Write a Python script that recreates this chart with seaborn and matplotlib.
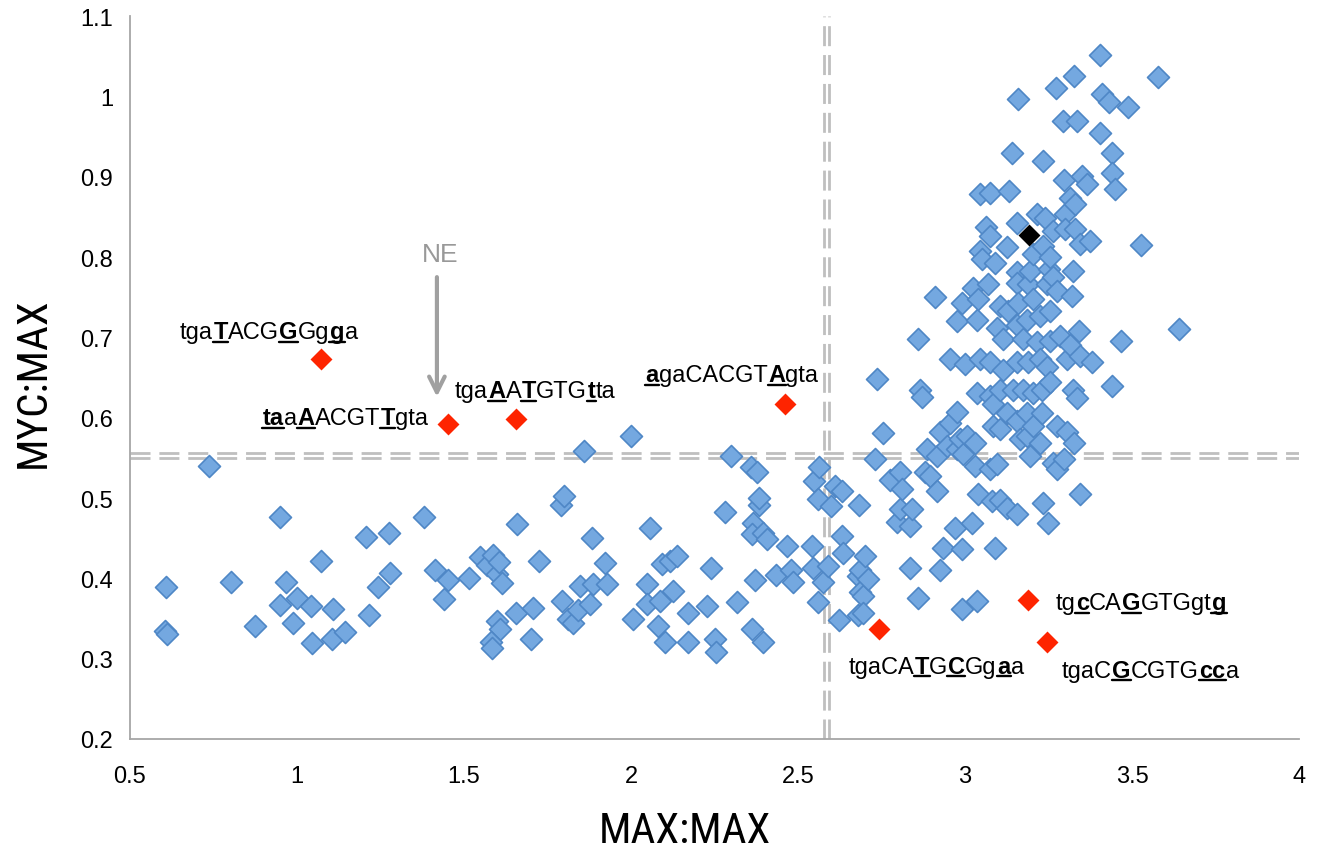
import re
import numpy as np
import pandas as pd
import matplotlib
matplotlib.use("Agg")
import matplotlib.pyplot as plt
import seaborn as sns
from matplotlib.lines import Line2D
from matplotlib.transforms import IdentityTransform
from matplotlib.font_manager import FontProperties
from matplotlib.ticker import FuncFormatter

# ---------------- data ----------------
max_max = [
    0.607, 0.605, 0.610, 0.737, 0.802, 0.873, 0.950, 0.948, 0.968, 0.988, 0.999, 1.042, 1.045,
    1.071, 1.105, 1.109, 1.144, 1.207, 1.217, 1.244, 1.277, 1.280, 1.379, 1.412, 1.441, 1.452,
    1.516, 1.549, 1.568, 1.586, 1.599, 1.605, 1.613, 1.598, 1.608, 1.580, 1.583, 1.655, 1.658,
    1.701, 1.708, 1.725, 1.789, 1.800, 1.792, 1.811, 1.827, 1.842, 1.847, 1.860, 1.877, 1.882,
    1.887, 1.922, 1.927, 1.999, 2.007, 2.047, 2.047, 2.057, 2.082, 2.087, 2.092, 2.102, 2.117,
    2.127, 2.137, 2.172, 2.172, 2.227, 2.241, 2.252, 2.255, 2.281, 2.299, 2.316, 2.359, 2.376,
    2.361, 2.366, 2.361, 2.371, 2.382, 2.384, 2.394, 2.396, 2.406, 2.434, 2.466, 2.479, 2.486,
    2.541, 2.546, 2.548, 2.559, 2.561, 2.563, 2.576, 2.591, 2.600, 2.611, 2.624, 2.631, 2.631,
    2.636, 2.679, 2.680, 2.683, 2.686, 2.686, 2.695, 2.696, 2.700, 2.711,
    2.731, 2.736, 2.755, 2.775, 2.795, 2.805, 2.805, 2.810, 2.835, 2.835, 2.840, 2.860, 2.860,
    2.865, 2.870, 2.880, 2.885, 2.895, 2.910, 2.915, 2.915, 2.925, 2.925, 2.935, 2.945, 2.955,
    2.955, 2.970, 2.975, 2.975, 2.975, 2.985, 2.990, 2.990, 2.990, 2.995, 3.000, 3.005, 3.020,
    3.025, 3.030, 3.030, 3.035, 3.035, 3.035, 3.040, 3.040, 3.045, 3.045, 3.045, 3.050, 3.063,
    3.070, 3.075, 3.075, 3.075, 3.075, 3.075, 3.080, 3.085, 3.085, 3.090, 3.090, 3.095, 3.095,
    3.105, 3.105, 3.105, 3.105, 3.115, 3.115, 3.125, 3.125, 3.125, 3.130, 3.132, 3.142, 3.145,
    3.155, 3.155, 3.155, 3.155, 3.155, 3.155, 3.155, 3.158, 3.160, 3.165, 3.175, 3.175, 3.185,
    3.185, 3.185, 3.190, 3.190, 3.195, 3.195, 3.205, 3.205, 3.205, 3.205, 3.215, 3.215, 3.225,
    3.225, 3.225, 3.230, 3.230, 3.234, 3.234, 3.234, 3.240, 3.245, 3.245, 3.249, 3.250, 3.254,
    3.254, 3.254, 3.255, 3.264, 3.264, 3.264, 3.273, 3.275, 3.275, 3.275, 3.284, 3.293, 3.295,
    3.295, 3.298, 3.300, 3.304, 3.305, 3.313, 3.314, 3.320, 3.324, 3.324, 3.325, 3.325, 3.328,
    3.330, 3.335, 3.336, 3.340, 3.344, 3.344, 3.344, 3.349, 3.365, 3.374, 3.380, 3.405, 3.405,
    3.411, 3.432, 3.440, 3.441, 3.441, 3.450, 3.466, 3.488, 3.528, 3.579, 3.640,
]
myc_max = [
    0.389, 0.335, 0.331, 0.540, 0.396, 0.341, 0.476, 0.367, 0.396, 0.344, 0.375, 0.365, 0.319,
    0.422, 0.325, 0.362, 0.333, 0.452, 0.354, 0.389, 0.457, 0.407, 0.476, 0.410, 0.374, 0.398,
    0.400, 0.427, 0.416, 0.429, 0.406, 0.420, 0.394, 0.347, 0.337, 0.321, 0.313, 0.357, 0.468,
    0.325, 0.363, 0.421, 0.491, 0.503, 0.372, 0.349, 0.345, 0.360, 0.390, 0.558, 0.368, 0.450,
    0.393, 0.419, 0.393, 0.577, 0.349, 0.393, 0.368, 0.463, 0.341, 0.372, 0.418, 0.321, 0.422,
    0.384, 0.428, 0.357, 0.321, 0.366, 0.413, 0.325, 0.308, 0.483, 0.552, 0.370, 0.538, 0.532,
    0.337, 0.469, 0.455, 0.398, 0.491, 0.500, 0.321, 0.457, 0.449, 0.404, 0.440, 0.411, 0.395,
    0.440, 0.413, 0.521, 0.499, 0.370, 0.539, 0.395, 0.415, 0.490, 0.515, 0.348, 0.509, 0.453,
    0.432, 0.354, 0.403, 0.491, 0.411, 0.383, 0.378, 0.357, 0.428, 0.399,
    0.548, 0.648, 0.581, 0.523, 0.470, 0.532, 0.486, 0.511, 0.465, 0.413, 0.486, 0.376, 0.698,
    0.635, 0.626, 0.532, 0.561, 0.528, 0.750, 0.552, 0.509, 0.582, 0.411, 0.438, 0.565, 0.594,
    0.673, 0.463, 0.607, 0.561, 0.720, 0.573, 0.743, 0.436, 0.362, 0.555, 0.667, 0.577, 0.469,
    0.762, 0.569, 0.540, 0.631, 0.722, 0.372, 0.505, 0.748, 0.878, 0.808, 0.673, 0.797, 0.837,
    0.766, 0.880, 0.826, 0.669, 0.627, 0.536, 0.496, 0.617, 0.590, 0.793, 0.438, 0.712, 0.542,
    0.739, 0.635, 0.586, 0.498, 0.698, 0.660, 0.812, 0.606, 0.488, 0.733, 0.882, 0.930, 0.635,
    0.843, 0.781, 0.768, 0.716, 0.669, 0.596, 0.480, 0.997, 0.743, 0.573, 0.698, 0.635, 0.722,
    0.606, 0.577, 0.766, 0.669, 0.783, 0.552, 0.804, 0.748, 0.631, 0.590, 0.853, 0.694, 0.727,
    0.673, 0.569, 0.635, 0.606, 0.919, 0.814, 0.494, 0.849, 0.766, 0.663, 0.469, 0.785, 0.800,
    0.733, 0.696, 0.644, 0.833, 0.775, 0.544, 1.011, 0.758, 0.590, 0.536, 0.702, 0.970, 0.896,
    0.548, 0.853, 0.835, 0.673, 0.582, 0.874, 0.690, 0.752, 0.783, 0.635, 1.026, 0.569, 0.866,
    0.835, 0.625, 0.970, 0.708, 0.816, 0.677, 0.505, 0.901, 0.891, 0.820, 0.669, 1.052, 0.955,
    1.003, 0.993, 0.640, 0.930, 0.905, 0.885, 0.696, 0.987, 0.815, 1.024, 0.710,
]

# highlighted sites: [..] marks bold underlined bases
site_x = [1.072, 1.452, 1.656, 2.461, 2.743, 3.190, 3.245]
site_y = [0.673, 0.592, 0.598, 0.617, 0.337, 0.373, 0.321]
site_labels = [
    "tga[T]ACG[G]Gg[g]a",
    "[ta]a[A]ACGT[T]gta",
    "tga[A]A[T]GTG[t]ta",
    "[a]gaCACGT[A]gta",
    "tgaCA[T]G[C]Gg[a]a",
    "tg[c]CA[G]GTGgt[g]",
    "tgaC[G]CGTG[cc]a",
]
ref_x = [3.192]
ref_y = [0.827]

thresh_x = [2.578, 2.593]
thresh_y = [0.5565, 0.5495]

x_ticks = [0.5, 1, 1.5, 2, 2.5, 3, 3.5, 4]
y_ticks = [0.2, 0.3, 0.4, 0.5, 0.6, 0.7, 0.8, 0.9, 1.0, 1.1]

# label placement: (horizontal anchor, dx px, dy px downward)
label_place = [
    ("center", -52, -21),
    ("right", -20, 0),
    ("center", 19, -22),
    ("center", -53, -23),
    ("center", 57, 44),
    ("left", 27, 9),
    ("left", 15, 35),
]

# ---------------- style ----------------
sns.set_theme(style="white")
plt.rcParams["font.family"] = ["Liberation Sans", "DejaVu Sans"]
NARROW = ["Roboto Condensed", "Liberation Sans Narrow", "Liberation Sans"]
AXIS_GREY = "#A6A6A6"
BLUE_FILL = "#74A8E0"
BLUE_EDGE = "#4F87C6"
RED = "#FE2400"
LABEL_SIZE = 17

fig, ax = plt.subplots(figsize=(13.18, 8.54), dpi=100)
fig.subplots_adjust(left=0.0986, right=0.9856, bottom=0.1335, top=0.980)

# threshold double dashed lines
for yv in thresh_y:
    ax.axhline(yv, color="#BFBFBF", lw=2, dashes=(7.2, 3.2), zorder=1)
for xv in thresh_x:
    ax.axvline(xv, color="#BFBFBF", lw=2, dashes=(7.2, 3.2), zorder=1)

df = pd.DataFrame({"MAX:MAX": max_max, "MYC:MAX": myc_max})
sns.scatterplot(data=df, x="MAX:MAX", y="MYC:MAX", marker="D", s=125,
                color=BLUE_FILL, edgecolor=BLUE_EDGE, linewidth=1.2, ax=ax, zorder=3)
sns.scatterplot(x=site_x, y=site_y, marker="D", s=125, color=RED,
                linewidth=0, ax=ax, zorder=4)
sns.scatterplot(x=ref_x, y=ref_y, marker="D", s=125, color="black",
                linewidth=0, ax=ax, zorder=5)

ax.set_xlim(0.5, 4)
ax.set_ylim(0.2, 1.1)
ax.set_xticks(x_ticks)
ax.set_yticks(y_ticks)
fmt = FuncFormatter(lambda v, p: f"{v:g}")
ax.xaxis.set_major_formatter(fmt)
ax.yaxis.set_major_formatter(fmt)
ax.tick_params(axis="both", direction="out", length=7, width=1.2, color=AXIS_GREY,
               labelsize=17, labelcolor="black")
ax.tick_params(axis="x", pad=12)
ax.tick_params(axis="y", pad=5)
for side in ["top", "right"]:
    ax.spines[side].set_visible(False)
for side in ["left", "bottom"]:
    ax.spines[side].set_color(AXIS_GREY)
    ax.spines[side].set_linewidth(1.3)

ax.set_xlabel("MAX:MAX", fontsize=31, family=NARROW, color="black")
ax.set_ylabel("MYC:MAX", fontsize=31, family=NARROW, color="black")
ax.xaxis.set_label_coords(0.475, -0.098)
ax.yaxis.set_label_coords(-0.083, 0.494)
ax.yaxis.label.set_va("center")

# NE arrow
ax.annotate("", xy=(1.419, 0.626), xytext=(1.419, 0.775),
            arrowprops=dict(arrowstyle="->", color="#A0A0A0", lw=3,
                            mutation_scale=28, shrinkA=0, shrinkB=0))
ax.text(1.428, 0.804, "NE", fontsize=19, color="#999999", ha="center", va="center")


def parse_markup(s):
    out = []
    for p in re.split(r"(\[[^\]]+\])", s):
        if not p:
            continue
        out.append((p[1:-1], True) if p.startswith("[") else (p, False))
    return out


renderer = fig.canvas.get_renderer()


def draw_rich(xd, yd, markup, ha, dx, dy):
    segs = parse_markup(markup)
    props = [FontProperties(family="Liberation Sans", size=LABEL_SIZE,
                            weight="bold" if b else "normal") for _, b in segs]
    gap = 0.3
    widths = [renderer.get_text_width_height_descent(s, fp, ismath=False)[0]
              for (s, _), fp in zip(segs, props)]
    total = sum(widths) + gap * (len(widths) - 1)
    px, py = ax.transData.transform((xd, yd))
    base = py - dy
    if ha == "left":
        x0 = px + dx
    elif ha == "right":
        x0 = px + dx - total
    else:
        x0 = px + dx - total / 2
    x = x0
    for (s, b), fp, w in zip(segs, props, widths):
        fig.text(x, base, s, fontproperties=fp, transform=IdentityTransform(),
                 ha="left", va="baseline", color="black")
        if b:
            fig.add_artist(Line2D([x - 0.5, x + w + 0.5], [base - 3.5, base - 3.5],
                                  transform=IdentityTransform(), color="black", lw=1.7))
        x += w + gap


for xd, yd, lab, (ha, dx, dy) in zip(site_x, site_y, site_labels, label_place):
    draw_rich(xd, yd, lab, ha, dx, dy)

fig.savefig("out.png", dpi=100)
